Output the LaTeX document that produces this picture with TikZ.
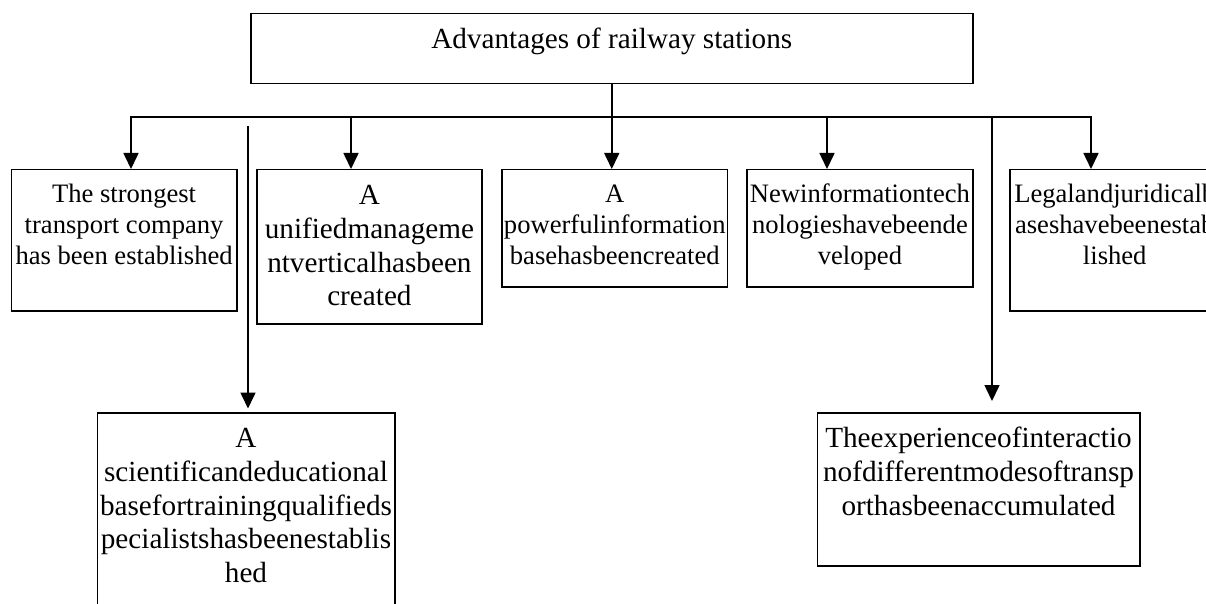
\documentclass[tikz,border=0pt]{standalone}
\usepackage{fontspec}
\setmainfont{Liberation Serif}
\usetikzlibrary{arrows.meta}
\newcommand{\smallf}{\fontsize{26.6pt}{31pt}\selectfont}
\newcommand{\bigf}{\fontsize{29.2pt}{33.7pt}\selectfont}
% #1 width, #2 height, #3 font, #4 first baseline offset, #5 text
\newcommand{\boxtxt}[5]{\parbox[c][#2pt][t]{#1pt}{\centering#3\rule{0pt}{#4pt}#5}}
\tikzset{
  box/.style={draw, line width=1.5pt, inner sep=0pt, anchor=north west},
  conn/.style={line width=1.6pt},
  arr/.style={conn, -{Triangle[length=16pt, width=15pt]}},
}
\begin{document}
\begin{tikzpicture}[x=1pt,y=-1pt]
\useasboundingbox (0,0) rectangle (1206,604);
\clip (0,0) rectangle (1206,604);
\fill[white] (0,0) rectangle (1206,604);

\node[box] (top) at (250,13) {\boxtxt{722}{70}{\bigf}{35}{Advantages of railway stations}};

\node[box] (b1) at (10.7,169) {\boxtxt{225.3}{141}{\smallf}{33}{The strongest\\transport company\\has been established}};
\node[box] (b2) at (256,169) {\boxtxt{225.3}{154}{\bigf}{35}{A\\unifiedmanageme\\ntverticalhasbeen\\created}};
\node[box] (b3) at (501.4,169) {\boxtxt{225.2}{117}{\smallf}{33}{A\\powerfulinformation\\basehasbeencreated}};
\node[box] (b4) at (746.4,169) {\boxtxt{225.6}{117}{\smallf}{33}{Newinformationtech\\nologieshavebeende\\veloped}};
\node[box] (b5) at (1009,169) {\boxtxt{210}{141}{\smallf}{33}{Legalandjuridicalb\\aseshavebeenestab\\lished}};
\node[box] (b6) at (96.5,412) {\boxtxt{297.5}{260}{\bigf}{35}{A\\scientificandeducational\\basefortrainingqualifieds\\pecialistshasbeenestablis\\hed}};
\node[box] (b7) at (816.5,412) {\boxtxt{322.5}{153}{\bigf}{35}{Theexperienceofinteractio\\nofdifferentmodesoftransp\\orthasbeenaccumulated}};

\coordinate (busL) at (131,117);
\coordinate (busR) at (1091,117);
\coordinate (j2) at (351,117);
\coordinate (j4) at (827,117);
\coordinate (j7) at (992,117);
\coordinate (f6) at (248,126);

\draw[arr] (busR) -- (busL) -- (busL |- b1.north);
\draw[arr] (busL) -- (busR) -- (busR |- b5.north);
\draw[arr] (top.south) -- (top.south |- b3.north);
\draw[arr] (j2) -- (j2 |- b2.north);
\draw[arr] (j4) -- (j4 |- b4.north);
\draw[arr, shorten >=3.5pt] (f6) -- (f6 |- b6.north);
\draw[arr, shorten >=11pt] (j7) -- (j7 |- b7.north);
\end{tikzpicture}
\end{document}
